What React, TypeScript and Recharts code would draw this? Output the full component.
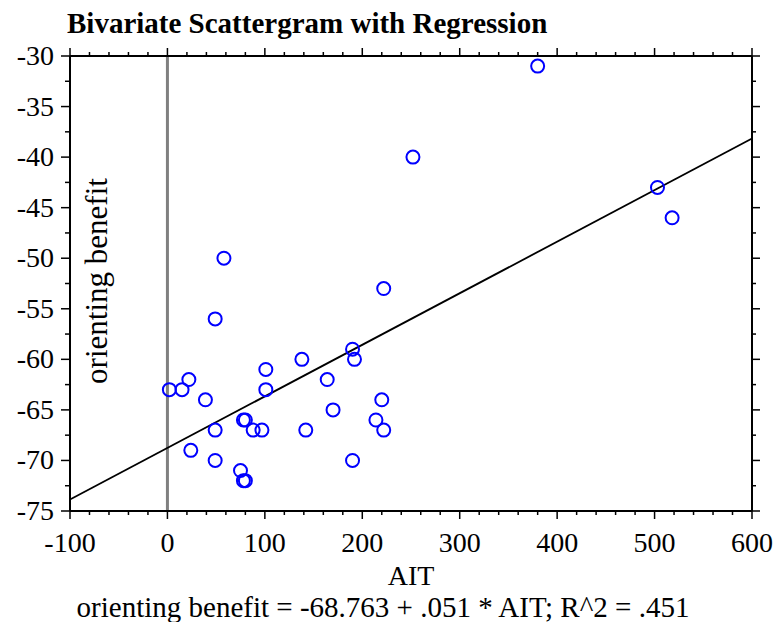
import { ScatterChart, Scatter, XAxis, YAxis, ReferenceLine } from 'recharts'

// AIT (x) and orienting benefit (y)
const aitValues = [380, 252, 503, 518, 58, 222, 49, 190, 192, 138, 101, 22, 164, 2, 15, 101, 39, 220, 170, 78, 80, 214, 49, 88, 97, 142, 222, 24, 49, 190, 75, 78, 80]
const benefitValues = [-31, -40, -43, -46, -50, -53, -56, -59, -60, -60, -61, -62, -62, -63, -63, -63, -64, -64, -65, -66, -66, -66, -67, -67, -67, -67, -67, -69, -70, -70, -71, -72, -72]

const xTicks = [-100, -80, -60, -40, -20, 0, 20, 40, 60, 80, 100, 120, 140, 160, 180, 200, 220, 240, 260, 280, 300, 320, 340, 360, 380, 400, 420, 440, 460, 480, 500, 520, 540, 560, 580, 600]
const xLabels = [-100, 0, 100, 200, 300, 400, 500, 600]
const yTicks = [-75, -72.5, -70, -67.5, -65, -62.5, -60, -57.5, -55, -52.5, -50, -47.5, -45, -42.5, -40, -37.5, -35, -32.5, -30]
const yLabels = [-75, -70, -65, -60, -55, -50, -45, -40, -35, -30]

const intercept = -68.763
const slope = 0.051

const data = aitValues.map((x, i) => ({ x, y: benefitValues[i] }))
const xMin = -100
const xMax = 600

const font = '"Liberation Serif", "Times New Roman", Times, serif'
const majorLen = 8
const minorLen = 4
const tickStroke = { stroke: '#000', strokeWidth: 1.5 }

const BottomTick = ({ x, y, payload }: any) => {
    const major = xLabels.includes(payload.value)
    return (
        <g>
            <line x1={x} x2={x} y1={y} y2={y + (major ? majorLen : minorLen)} {...tickStroke} />
            {major && (
                <text x={x} y={y + 41} textAnchor='middle' fontSize={28} fontFamily={font} fill='#000'>
                    {payload.value}
                </text>
            )}
        </g>
    )
}

const TopTick = ({ x, y, payload }: any) => {
    const major = xLabels.includes(payload.value)
    return <line x1={x} x2={x} y1={y} y2={y - (major ? majorLen : minorLen)} {...tickStroke} />
}

const LeftTick = ({ x, y, payload }: any) => {
    const major = yLabels.includes(payload.value)
    return (
        <g>
            <line x1={x} x2={x - (major ? majorLen + 1 : minorLen + 1)} y1={y} y2={y} {...tickStroke} />
            {major && (
                <text x={x - 16} y={y + 9} textAnchor='end' fontSize={28} fontFamily={font} fill='#000'>
                    {payload.value}
                </text>
            )}
        </g>
    )
}

const RightTick = ({ x, y, payload }: any) => {
    const major = yLabels.includes(payload.value)
    return <line x1={x} x2={x + (major ? majorLen : minorLen)} y1={y} y2={y} {...tickStroke} />
}

const OpenCircle = ({ cx, cy }: any) => (
    <circle cx={cx} cy={cy} r={6.5} fill='none' stroke='#0000ff' strokeWidth={2} />
)

const Nothing = () => <g />

const titleLabel = ({ viewBox }: any) => (
    <text x={(viewBox?.x ?? 70) - 3} y={33} fontSize={29} fontWeight='bold' fontFamily={font} fill='#000'>
        Bivariate Scattergram with Regression
    </text>
)

const bottomLabel = ({ viewBox }: any) => {
    const cx = (viewBox?.x ?? 70) + (viewBox?.width ?? 682) / 2
    return (
        <g>
            <text x={cx} y={585} textAnchor='middle' fontSize={28} fontFamily={font} fill='#000'>AIT</text>
            <text x={383} y={617} textAnchor='middle' fontSize={29} fontFamily={font} fill='#000'>
                orienting benefit = -68.763 + .051 * AIT; R^2 = .451
            </text>
        </g>
    )
}

const leftLabel = () => (
    <text x={107} y={281} transform='rotate(-90, 107, 281)' textAnchor='middle' fontSize={31} fontFamily={font} fill='#000'>
        orienting benefit
    </text>
)

const App = () => {
    return (
        <div style={{ position: 'absolute', left: 0, top: 0, width: 778, height: 622, background: '#fff' }}>
            <ScatterChart width={778} height={622} margin={{ top: 0, right: 0, bottom: 0, left: 0 }}>
                <XAxis
                    xAxisId='b'
                    dataKey='x'
                    type='number'
                    domain={[xMin, xMax]}
                    ticks={xTicks}
                    interval={0}
                    allowDataOverflow
                    height={111}
                    tickSize={0}
                    tickMargin={0}
                    tickLine={false}
                    tick={BottomTick}
                    axisLine={{ stroke: '#000', strokeWidth: 2 }}
                    label={bottomLabel}
                />
                <XAxis
                    xAxisId='t'
                    orientation='top'
                    dataKey='x'
                    type='number'
                    domain={[xMin, xMax]}
                    ticks={xTicks}
                    interval={0}
                    allowDataOverflow
                    height={56}
                    tickSize={0}
                    tickMargin={0}
                    tickLine={false}
                    tick={TopTick}
                    axisLine={{ stroke: '#000', strokeWidth: 2 }}
                    label={titleLabel}
                />
                <YAxis
                    yAxisId='l'
                    dataKey='y'
                    type='number'
                    domain={[-75, -30]}
                    ticks={yTicks}
                    interval={0}
                    allowDataOverflow
                    width={70}
                    tickSize={0}
                    tickMargin={0}
                    tickLine={false}
                    tick={LeftTick}
                    axisLine={{ stroke: '#000', strokeWidth: 2 }}
                    label={leftLabel}
                />
                <YAxis
                    yAxisId='r'
                    orientation='right'
                    dataKey='y'
                    type='number'
                    domain={[-75, -30]}
                    ticks={yTicks}
                    interval={0}
                    allowDataOverflow
                    width={26}
                    tickSize={0}
                    tickMargin={0}
                    tickLine={false}
                    tick={RightTick}
                    axisLine={{ stroke: '#000', strokeWidth: 2 }}
                />
                <ReferenceLine xAxisId='b' yAxisId='l' x={0} stroke='#808080' strokeWidth={3} />
                <ReferenceLine
                    xAxisId='b'
                    yAxisId='l'
                    segment={[
                        { x: xMin, y: intercept + slope * xMin },
                        { x: xMax, y: intercept + slope * xMax },
                    ]}
                    stroke='#000'
                    strokeWidth={1.8}
                />
                <Scatter xAxisId='t' yAxisId='r' data={data} shape={Nothing} isAnimationActive={false} />
                <Scatter xAxisId='b' yAxisId='l' data={data} shape={OpenCircle} isAnimationActive={false} />
            </ScatterChart>
        </div>
    )
}

export default App
